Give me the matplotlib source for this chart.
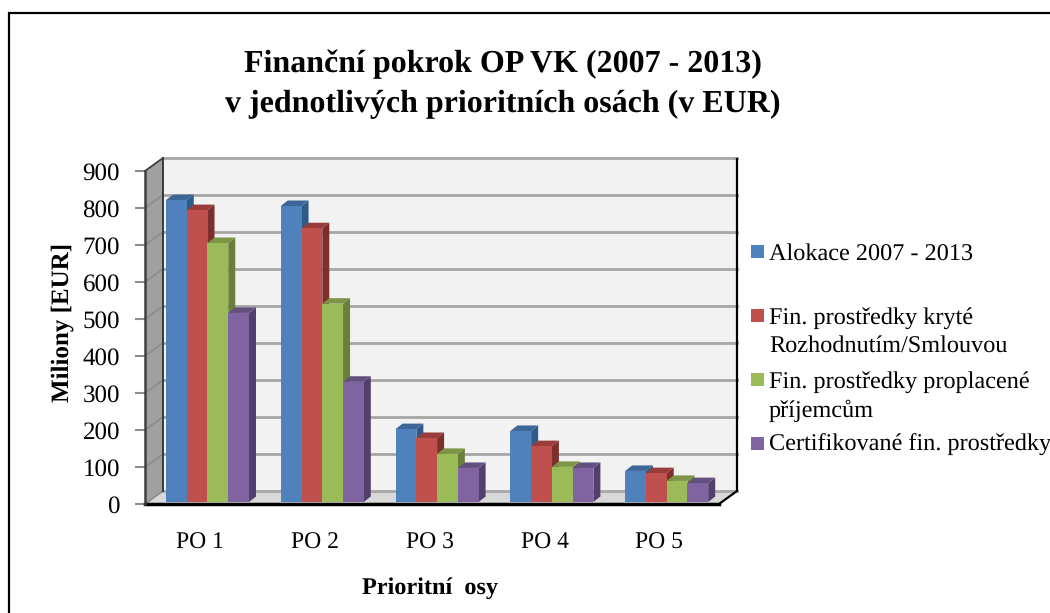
import matplotlib
matplotlib.use('Agg')
import matplotlib.pyplot as plt
from matplotlib.patches import Polygon, Rectangle
from matplotlib.transforms import ScaledTranslation

plt.rcParams['font.family'] = ['Liberation Serif', 'DejaVu Serif']
plt.rcParams['text.hinting'] = 'no_hinting'

# data
categories = ['PO 1', 'PO 2', 'PO 3', 'PO 4', 'PO 5']
alokace = [816, 800, 197, 192, 84]
kryte = [789, 740, 173, 151, 78]
proplacene = [700, 536, 130, 95, 57]
certifikovane = [511, 325, 92, 92, 51]

series_names = ['Alokace 2007 - 2013',
                'Fin. prostředky kryté\nRozhodnutím/Smlouvou',
                'Fin. prostředky proplacené\npříjemcům',
                'Certifikované fin. prostředky']
series = [alokace, kryte, proplacene, certifikovane]
front = ['#4f81bd', '#c0504d', '#9bbb59', '#8064a2']
side = ['#305a8a', '#7c2f2d', '#6a7f3a', '#523f6e']
top = ['#3d6698', '#9a3d3a', '#7d9645', '#63507f']
legend_y = [254, 332, 397, 445]
swatch_y = [245, 309, 373, 437]

W, H = 1050, 613
fig = plt.figure(figsize=(W / 100, H / 100), dpi=100)

# plain pixel layer for the frame and legend
bg = fig.add_axes([0, 0, 1, 1])
bg.set_xlim(0, W)
bg.set_ylim(H, 0)
bg.axis('off')
bg.plot([9, 9, W], [H, 13, 13], color='black', lw=1.6, clip_on=False, solid_joinstyle='miter')

# front plane of the 3d box: x 145-719, y 504-171
ax = fig.add_axes([145 / W, 1 - 504 / H, 574 / W, 333 / H], zorder=2)
ax.set_xlim(0, 5)
ax.set_ylim(0, 900)
ax.patch.set_alpha(0)
for s in ax.spines.values():
    s.set_visible(False)

px = 5 / 574      # one pixel in x data units
py = 900 / 333    # one pixel in y data units
dx, dy = 18 * px, 13 * py

# back wall and floor
ax.add_patch(Rectangle((dx, dy), 5, 900, fc='#f2f2f2', ec='none', zorder=0, clip_on=False))
ax.add_patch(Polygon([(0, 0), (dx, dy), (5 + dx, dy), (5, 0)], fc='#d9d9d9', ec='none', zorder=1, clip_on=False))
ax.add_patch(Polygon([(0, 0), (dx, dy), (dx, 900 + dy), (0, 900)], fc='#a0a0a0', ec='none', zorder=1, clip_on=False))

for v in range(0, 1000, 100):
    ax.plot([dx, 5 + dx], [v + dy, v + dy], color='#a6a6a6', lw=2, zorder=1, clip_on=False)
    ax.plot([0, dx], [v, v + dy], color='#8c8c8c', lw=1.2, zorder=1, clip_on=False)
    ax.plot([-9 * px, 0], [v, v], color='#8c8c8c', lw=1.5, zorder=1, clip_on=False)

# box outlines
ax.plot([0, 5], [0, 0], color='black', lw=2.5, zorder=2, clip_on=False)
ax.plot([0, 0], [0, 900], color='#404040', lw=1.8, zorder=2, clip_on=False)
ax.plot([dx, dx], [dy, 900 + dy], color='#303030', lw=1.3, zorder=2, clip_on=False)
ax.plot([5, 5 + dx, 5 + dx], [0, dy, 900 + dy - py], color='black', lw=1.6, zorder=2, clip_on=False)
ax.plot([0, dx], [900, 900 + dy], color='#404040', lw=1.2, zorder=2, clip_on=False)

# bars: the group starts 21 px into each category and sits 2 px above the axis
bar_w = 20.75 * px
bar_dx, bar_dy = 7 * px, 5.5 * py
base = 2 * py
for i, vals in enumerate(series):
    for j, v in enumerate(vals):
        x0 = j + 21 * px + i * bar_w
        x1 = x0 + bar_w
        h = base + v
        ax.add_patch(Polygon([(x1, base), (x1 + bar_dx, base + bar_dy), (x1 + bar_dx, h + bar_dy), (x1, h)],
                             fc=side[i], ec='none', zorder=3 + i + j * 10, clip_on=False))
        ax.add_patch(Polygon([(x0, h), (x0 + bar_dx, h + bar_dy), (x1 + bar_dx, h + bar_dy), (x1, h)],
                             fc=top[i], ec='none', zorder=3 + i + j * 10, clip_on=False))
        ax.bar(x0, v, bottom=base, width=bar_w, align='edge', color=front[i], zorder=3 + i + j * 10, clip_on=False)

ax.set_xticks([k + 0.5 for k in range(5)])
ax.set_xticklabels(categories, fontsize=17)
ax.set_yticks(range(0, 1000, 100))
ax.tick_params(axis='x', length=0, pad=20)
ax.tick_params(axis='y', length=0, pad=18, labelsize=18)

# x labels sit a little left of the category centre
shift = ScaledTranslation(-2.3 / 100, 0, fig.dpi_scale_trans)
for lab in ax.get_xticklabels():
    lab.set_transform(lab.get_transform() + shift)

# titles
bg.text(503, 84, 'Finanční pokrok OP VK (2007 - 2013)\nv jednotlivých prioritních osách (v EUR)',
        ha='center', va='center', fontsize=23, fontweight='bold', linespacing=1.5)
bg.text(63, 322, 'Miliony [EUR]', rotation=90, ha='center', va='center', fontsize=18, fontweight='bold')
bg.text(430, 588, 'Prioritní  osy', ha='center', va='center', fontsize=17.5, fontweight='bold')

# legend
for name, c, y, sy in zip(series_names, front, legend_y, swatch_y):
    bg.add_patch(Rectangle((751, sy), 13, 13, fc=c, ec='none'))
    bg.text(769, y, name, ha='left', va='center', fontsize=17.5, linespacing=1.38, clip_on=False)

fig.savefig('out.png', dpi=100)
